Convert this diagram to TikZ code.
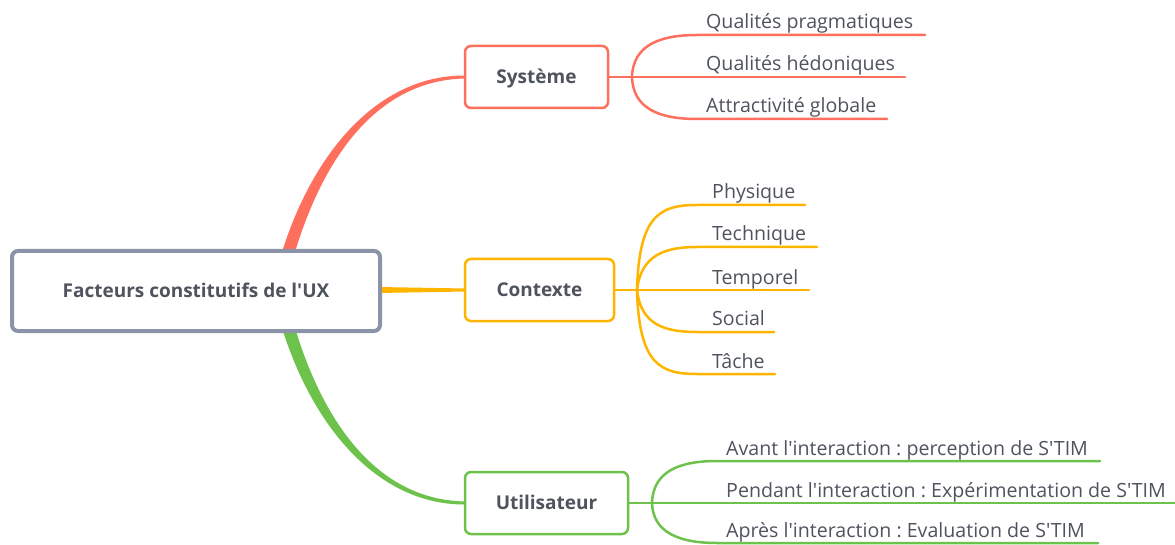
\documentclass[tikz,border=0pt]{standalone}
\usepackage{fontspec}
\setmainfont{Open Sans}[Ligatures=TeXOff]
\frenchspacing
\definecolor{sysred}{HTML}{FF6F5E}
\definecolor{ctxorange}{HTML}{FFB400}
\definecolor{usrgreen}{HTML}{6CC24A}
\definecolor{rootgray}{HTML}{8A94A6}
\definecolor{txtgray}{HTML}{4E535D}
\tikzset{
  rootbox/.style={draw=rootgray, line width=4pt, rounded corners=6pt, fill=white,
    minimum width=368pt, minimum height=80pt, text=txtgray, text height=14pt, text depth=1pt,
    font=\fontsize{19}{22}\selectfont\bfseries},
  topic/.style={draw=#1, line width=2.5pt, rounded corners=6pt, fill=white,
    minimum height=62pt, text=txtgray, text height=14pt, text depth=1pt,
    font=\fontsize{19}{22}\selectfont\bfseries},
  leaf/.style={anchor=base west, inner sep=0pt, text=txtgray, font=\fontsize{19.6}{22}\selectfont},
  branch/.style={draw=#1, line width=2.5pt, line cap=round},
}
\begin{document}
\begin{tikzpicture}[x=1pt,y=-1pt]
\useasboundingbox (0,0) rectangle (1175,545);

% main branches (tapered)
\fill[sysred] (282,252) .. controls (314,150) and (380,74.5) .. (466,75.5) -- (466,78.5) .. controls (382,79.5) and (326,150) .. (295,252) -- cycle;
\fill[usrgreen] (282,328) .. controls (314,430) and (380,505.5) .. (466,504.5) -- (466,501.5) .. controls (382,500.5) and (326,430) .. (295,328) -- cycle;
\fill[ctxorange] (378,287) -- (466,288.5) -- (466,291.5) -- (378,293) -- cycle;

\node[rootbox] (root) at (196,291) {Facteurs constitutifs de l'UX};
\node[topic=sysred, minimum width=143pt] (sys) at (536.5,77) {Système};
\node[topic=ctxorange, minimum width=149pt] (ctx) at (539.5,290) {Contexte};
\node[topic=usrgreen, minimum width=163pt] (usr) at (546.5,503) {Utilisateur};

% Système leaves
\coordinate (sf) at (632,77);
\coordinate (s1l) at (697,35);  \coordinate (s1r) at (925,35);
\coordinate (s2l) at (697,77);  \coordinate (s2r) at (905,77);
\coordinate (s3l) at (697,119); \coordinate (s3r) at (887,119);
\draw[branch=sysred] (sys.east) -- (sf);
\draw[branch=sysred] (sf) .. controls (633,45) and (660,35) .. (s1l) -- (s1r);
\draw[branch=sysred] (sf) -- (s2l) -- (s2r);
\draw[branch=sysred] (sf) .. controls (633,109) and (660,119) .. (s3l) -- (s3r);
\node[leaf] (s1) at (706,29) {Qualités pragmatiques};
\node[leaf] (s2) at (706,71) {Qualités hédoniques};
\node[leaf] (s3) at (706,113) {Attractivité globale};

% Contexte leaves
\coordinate (cf) at (637,290);
\coordinate (c1l) at (697,205); \coordinate (c1r) at (805,205);
\coordinate (c2l) at (697,247); \coordinate (c2r) at (817,247);
\coordinate (c3l) at (697,290); \coordinate (c3r) at (809,290);
\coordinate (c4l) at (697,332); \coordinate (c4r) at (774,332);
\coordinate (c5l) at (697,374); \coordinate (c5r) at (775,374);
\draw[branch=ctxorange] (ctx.east) -- (cf);
\draw[branch=ctxorange] (cf) .. controls (639,215) and (660,205) .. (c1l) -- (c1r);
\draw[branch=ctxorange] (cf) .. controls (641,255) and (665,247) .. (c2l) -- (c2r);
\draw[branch=ctxorange] (cf) -- (c3l) -- (c3r);
\draw[branch=ctxorange] (cf) .. controls (641,325) and (665,332) .. (c4l) -- (c4r);
\draw[branch=ctxorange] (cf) .. controls (639,364) and (660,374) .. (c5l) -- (c5r);
\node[leaf] (c1) at (712,199) {Physique};
\node[leaf] (c2) at (712,241) {Technique};
\node[leaf] (c3) at (712,284) {Temporel};
\node[leaf] (c4) at (712,326) {Social};
\node[leaf] (c5) at (712,368) {Tâche};

% Utilisateur leaves
\coordinate (uf) at (652,503);
\coordinate (u1l) at (717,461); \coordinate (u1r) at (1100,461);
\coordinate (u2l) at (717,503); \coordinate (u2r) at (1175,503);
\coordinate (u3l) at (717,543); \coordinate (u3r) at (1098,543);
\draw[branch=usrgreen] (usr.east) -- (uf);
\draw[branch=usrgreen] (uf) .. controls (653,471) and (680,461) .. (u1l) -- (u1r);
\draw[branch=usrgreen] (uf) -- (u2l) -- (u2r);
\draw[branch=usrgreen] (uf) .. controls (653,533) and (680,543) .. (u3l) -- (u3r);
\node[leaf] (u1) at (726,455) {Avant l'interaction : perception de S'TIM};
\node[leaf] (u2) at (726,497) {Pendant l'interaction : Expérimentation de S'TIM};
\node[leaf] (u3) at (726,537) {Après l'interaction : Evaluation de S'TIM};
\end{tikzpicture}
\end{document}
